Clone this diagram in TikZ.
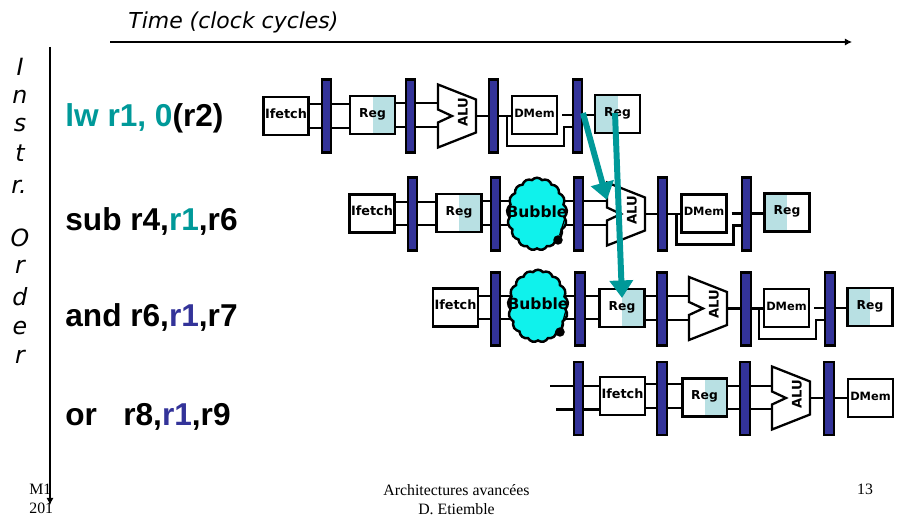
\documentclass[tikz,border=0pt]{standalone}
\usepackage{xcolor}
\usepackage{fontspec}
\usepackage{tikz}
\usetikzlibrary{arrows.meta,shapes.symbols,backgrounds}
\setmainfont{Liberation Serif}
\setsansfont{Liberation Sans}
\newfontfamily\handfont{DejaVu Sans}
\definecolor{plblue}{HTML}{333399}
\definecolor{plteal}{HTML}{009999}
\definecolor{plcyan}{HTML}{0FF2EC}
\definecolor{plshade}{HTML}{B8E0E3}
\tikzset{
  stagebox/.style={draw=black,line width=1.3pt,fill=white,minimum width=0.9cm,minimum height=0.76cm,
    inner sep=0pt,font=\handfont\bfseries\fontsize{6.5}{7}\selectfont,text height=5pt,text depth=2.5pt},
  fetchbox/.style={stagebox,font=\handfont\bfseries\fontsize{7.3}{8}\selectfont},
  regright/.style={stagebox,font=\handfont\bfseries\fontsize{7}{8}\selectfont,path picture={\fill[plshade] (path picture bounding box.south) rectangle (path picture bounding box.north east);}},
  regleft/.style={stagebox,font=\handfont\bfseries\fontsize{7}{8}\selectfont,path picture={\fill[plshade] (path picture bounding box.south west) rectangle (path picture bounding box.north);}},
  latchbar/.style={draw=black,line width=1.3pt,fill=plblue,minimum width=0.19cm,minimum height=1.46cm,inner sep=0pt},
  wire/.style={draw=black,line width=1.3pt},
  bubblecloud/.style={cloud,cloud puffs=17,cloud puff arc=100,aspect=0.85,draw=black,line width=1.4pt,fill=plcyan,
    minimum width=1.2cm,minimum height=1.45cm,inner sep=0pt},
  bubbletext/.style={font=\handfont\bfseries\fontsize{8.8}{9}\selectfont,inner sep=0pt},
  bubbledot/.style={circle,fill=black,minimum size=0.19cm,inner sep=0pt},
  forward/.style={plteal,line width=3.4pt,-{Triangle[length=10pt,width=13pt]}},
  axisline/.style={black,line width=0.6pt,-{Latex[length=4pt,width=4pt]}},
  instr/.style={anchor=base west,inner sep=0pt,font=\sffamily\bfseries\fontsize{18}{20}\selectfont},
  handletter/.style={inner sep=0pt,font=\handfont\itshape\fontsize{13.5}{15}\selectfont},
  footer/.style={inner sep=0pt,font=\fontsize{9}{11}\selectfont}
}
% two parallel wires between two anchors
\newcommand{\twowires}[2]{
  \begin{scope}[on background layer]
    \draw[wire] ([yshift=0.234cm]#1) -- ([yshift=0.234cm]#1 -| #2);
    \draw[wire] ([yshift=-0.234cm]#1) -- ([yshift=-0.234cm]#1 -| #2);
  \end{scope}
}
\newcommand{\onewire}[2]{
  \begin{scope}[on background layer]
    \draw[wire] (#1) -- (#1 -| #2);
  \end{scope}
}
% notched adder outline, name / x / y
\newcommand{\aluunit}[3]{
  \coordinate (#1) at (#2,#3);
  \coordinate (#1o) at ([xshift=0.76cm]#1);
  \draw[wire,fill=white] (#1) ++(14,0) -- ++(-14,-6.5) -- ++(0,-25) -- ++(38,15) -- ++(0,33)
    -- ++(-38,15) -- ++(0,-25) -- cycle;
  \node[rotate=90,inner sep=0pt,font=\handfont\bfseries\fontsize{7.5}{8}\selectfont] (#1t) at ([shift={(25,-4)}]#1) {ALU};
}
% loop under the data memory
\newcommand{\membypass}[2]{
  \begin{scope}[on background layer]
    \draw[wire] ([xshift=-0.08cm]#1.west) -- ++(0,31) -- ++(57,0) -- ++(0,-19) -- ++(10,0);
  \end{scope}
}
\begin{document}
\begin{tikzpicture}[x=0.02cm,y=-0.02cm]
\useasboundingbox (0,0) rectangle (899,523);
% axes and their labels
\node[handletter,anchor=west,font=\handfont\itshape\fontsize{12.5}{14}\selectfont] (timelabel) at (128,22) {Time (clock cycles)};
\coordinate (timea) at (110,42);
\coordinate (timeb) at (852,42);
\draw[axisline] (timea) -- (timeb);
\node[handletter] (ordi) at (20,67) {I};
\node[handletter] (ordn) at (20,97) {n};
\node[handletter] (ords) at (20,125) {s};
\node[handletter] (ordt) at (20,153) {t};
\node[handletter] (ordr) at (19,187) {r.};
\node[handletter] (ordo) at (20,238) {O};
\node[handletter] (ordrb) at (20,267) {r};
\node[handletter] (ordd) at (20,297) {d};
\node[handletter] (orde) at (20,328) {e};
\node[handletter] (ordrc) at (20,357) {r};
% instructions
\node[instr,plteal] (lwtext) at (65,127) {lw r1, 0\textcolor{black}{(r2)}};
\node[instr] (subtext) at (65,231) {sub r4,\textcolor{plteal}{r1},r6};
\node[instr] (andtext) at (65,327) {and r6,\textcolor{plblue}{r1},r7};
\node[instr] (ortext) at (65,425) {or\ \ \ r8,\textcolor{plblue}{r1},r9};
% first row
\node[fetchbox] (ifa) at (286,116) {Ifetch};
\node[latchbar] (lata) at (326.5,116) {};
\node[regright] (rega) at (372.5,115) {Reg};
\node[latchbar] (latb) at (410.5,116) {};
\aluunit{alua}{438}{116}
\node[latchbar] (latc) at (493.5,116) {};
\node[stagebox] (mema) at (534.5,115) {DMem};
\node[latchbar] (latd) at (577.5,116) {};
\node[regleft] (regb) at (617.5,114) {Reg};
\twowires{ifa.east}{rega.west}
\twowires{rega.east}{alua}
\onewire{aluao}{mema.west}
\onewire{[xshift=0.08cm]mema.east}{regb.west}
\membypass{mema}{latd}
% second row
\node[fetchbox] (ifb) at (372,213.5) {Ifetch};
\node[latchbar] (late) at (412.5,214) {};
\node[regright] (regc) at (459,213) {Reg};
\node[latchbar] (latf) at (495.5,214) {};
\node[latchbar] (latg) at (578.5,214) {};
\aluunit{alub}{607}{214}
\node[latchbar] (lath) at (662.5,214) {};
\node[stagebox] (memb) at (704,213.5) {DMem};
\node[latchbar] (lati) at (746.5,214) {};
\node[regleft] (regd) at (787,212.5) {Reg};
\twowires{ifb.east}{regc.west}
\twowires{regc.east}{alub}
\onewire{alubo}{memb.west}
\onewire{[xshift=0.08cm]memb.east}{regd.west}
\membypass{memb}{lati}
\node[bubblecloud] (buba) at (537,214) {};
\node[bubbledot] (dota) at (558,240) {};
\coordinate (taila) at (565,218);
\draw[wire,line width=0.7pt] (dota) -- (taila);
\node[bubbletext] (bubta) at (537,212) {Bubble};
% third row
\node[fetchbox] (ifc) at (455.5,307.5) {Ifetch};
\node[latchbar] (latj) at (495.5,309) {};
\node[latchbar] (latk) at (580,309) {};
\node[regright,line width=1.7pt] (rege) at (622,308) {Reg};
\node[latchbar] (latl) at (662,309) {};
\aluunit{aluc}{689}{308.5}
\node[latchbar] (latm) at (746,309) {};
\node[stagebox] (memc) at (786.5,308) {DMem};
\node[latchbar] (latn) at (830,309) {};
\node[regleft] (regf) at (870,307) {Reg};
\twowires{ifc.east}{rege.west}
\twowires{rege.east}{aluc}
\onewire{aluco}{memc.west}
\onewire{[xshift=0.08cm]memc.east}{regf.west}
\membypass{memc}{latn}
\node[bubblecloud] (bubb) at (538,306) {};
\node[bubbledot] (dotb) at (560,332) {};
\coordinate (tailb) at (566,310);
\draw[wire,line width=0.7pt] (dotb) -- (tailb);
\node[bubbletext] (bubtb) at (538,304) {Bubble};
% fourth row
\coordinate (starta) at (550,386);
\coordinate (startb) at (556,409.4);
\node[latchbar] (lato) at (578.5,398.5) {};
\node[fetchbox] (ifd) at (622.5,396) {Ifetch};
\node[latchbar] (latp) at (662,398.5) {};
\node[regright,line width=1.7pt] (regg) at (704.5,397.5) {Reg};
\node[latchbar] (latq) at (745,398.5) {};
\aluunit{alud}{772}{398}
\node[latchbar] (latr) at (829,398.5) {};
\node[stagebox] (memd) at (870.5,398) {DMem};
\onewire{starta}{ifd.west}
\onewire{startb}{ifd.west}
\twowires{ifd.east}{regg.west}
\twowires{regg.east}{alud}
\onewire{aludo}{memd.west}
% forwarding
\coordinate (fwdsrca) at (583,113);
\coordinate (fwdtipa) at (607,200);
\coordinate (fwdsrcb) at (615,113);
\coordinate (fwdtipb) at (622,298);
\draw[forward] (fwdsrca) -- (fwdtipa);
\draw[forward] (fwdsrcb) -- (fwdtipb);
% footer
\node[footer,anchor=west] (footm) at (29,489) {M1};
\node[footer,anchor=west] (footy) at (29,508) {201};
\coordinate (ordera) at (50,47);
\coordinate (orderb) at (50,505);
\draw[axisline] (ordera) -- (orderb);
\node[footer] (foott) at (456.5,490) {Architectures avancées};
\node[footer] (foota) at (456.5,509) {D. Etiemble};
\node[footer] (footp) at (865,489) {13};
\end{tikzpicture}
\end{document}
